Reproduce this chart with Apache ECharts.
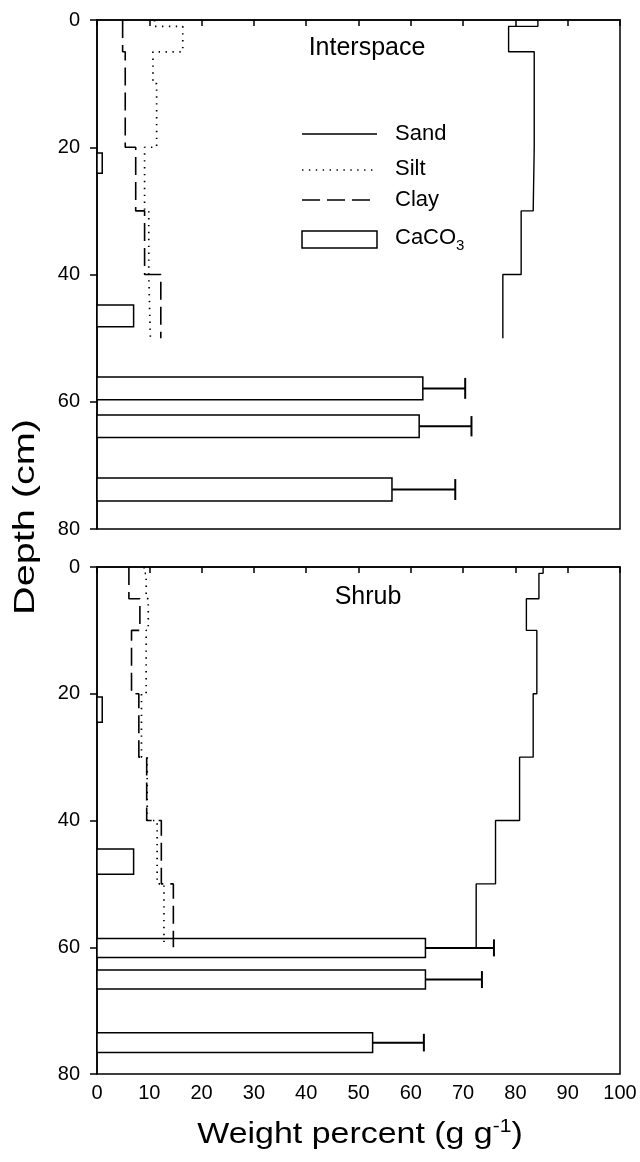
<!DOCTYPE html>
<html><head><meta charset="utf-8">
<script src="https://cdn.jsdelivr.net/npm/echarts@6/dist/echarts.min.js"></script>
<style>html,body{margin:0;padding:0;background:#fff}#c{width:640px;height:1162px}</style>
</head><body><div id="c"></div>
<script>
// ---------- data ----------
const xTickValues = [0,10,20,30,40,50,60,70,80,90,100];
const yTickValues = [0,20,40,60,80];

// Interspace (top panel): depth interval tops (cm) and values (%)
const depthTopsInterspace = [0, 1, 5, 10, 20, 30, 40];
const depthEndInterspace = 50;
const sandInterspace = [84.3, 78.7, 83.6, 83.6, 83.4, 81.1, 77.6];
const siltInterspace = [11.0, 16.4, 10.7, 11.4, 9.1, 9.9, 10.2];
const clayInterspace = [4.9, 4.9, 5.4, 5.4, 7.4, 9.1, 12.2];
const caco3Interspace = [1.0, 7.0, 62.3, 61.6, 56.4];
const caco3ErrInterspace = [0, 0, 8.1, 10.0, 12.1];
const caco3TopInterspace = [20.9, 44.8, 56.1, 62.1, 72.0];
const caco3BottomInterspace = [24.1, 48.2, 59.7, 65.6, 75.6];

// Shrub (bottom panel)
const depthTopsShrub = [0, 1, 5, 10, 20, 30, 40, 50];
const depthEndShrub = 60;
const sandShrub = [85.3, 84.5, 82.1, 84.1, 83.4, 80.8, 76.2, 72.5];
const siltShrub = [9.0, 9.4, 9.8, 9.4, 8.5, 9.6, 11.5, 12.8];
const clayShrub = [6.1, 6.1, 8.2, 6.6, 8.0, 9.5, 12.3, 14.6];
const caco3Shrub = [1.0, 7.0, 62.8, 62.8, 52.7];
const caco3ErrShrub = [0, 0, 13.1, 10.8, 9.8];
const caco3TopShrub = [20.5, 44.5, 58.6, 63.6, 73.5];
const caco3BottomShrub = [24.5, 48.5, 61.6, 66.6, 76.6];

// ---------- chart ----------
const FONT = '"Liberation Sans", Arial, sans-serif';
const chart = echarts.init(document.getElementById('c'), null, {renderer: 'canvas'});

function stepData(vals, tops, end) {
  const d = vals.map((v, i) => [v, tops[i]]);
  d.push([vals[vals.length - 1], end]);
  return d;
}
function barData(vals, errs, tops, bottoms) {
  return vals.map((v, i) => [v, errs[i], tops[i], bottoms[i]]);
}
function renderBar(params, api) {
  const v = api.value(0), e = api.value(1), t = api.value(2), b = api.value(3);
  const a = api.coord([0, t]), c = api.coord([v, b]);
  const children = [{
    type: 'rect',
    shape: {x: a[0], y: a[1], width: c[0] - a[0], height: c[1] - a[1]},
    style: {fill: '#fff', stroke: '#000', lineWidth: 1.5}
  }];
  if (e > 0) {
    const m = api.coord([v + e, (t + b) / 2]);
    children.push({type: 'line', shape: {x1: c[0], y1: m[1], x2: m[0], y2: m[1]}, style: {stroke: '#000', lineWidth: 2}});
    children.push({type: 'line', shape: {x1: m[0], y1: a[1] + 1, x2: m[0], y2: c[1] - 1}, style: {stroke: '#000', lineWidth: 2}});
  }
  return {type: 'group', children};
}

const lineStyles = {
  sand: {color: '#000', width: 1.4, type: 'solid'},
  silt: {color: '#000', width: 1.7, type: [1.4, 5.5], cap: 'butt'},
  clay: {color: '#000', width: 1.6, type: [18, 7]}
};

function panelSeries(idx, sand, silt, clay, tops, end, cv, ce, ct, cb) {
  const mk = (name, vals, st) => ({
    type: 'line', name, xAxisIndex: idx, yAxisIndex: idx,
    data: stepData(vals, tops, end), step: 'start', showSymbol: false,
    symbol: 'none', lineStyle: st, z: 5, silent: true, animation: false
  });
  return [
    {type: 'custom', name: 'CaCO3', xAxisIndex: idx, yAxisIndex: idx, renderItem: renderBar,
     data: barData(cv, ce, ct, cb), encode: {x: 0, y: 2}, z: 2, silent: true, animation: false},
    mk('Sand', sand, lineStyles.sand),
    mk('Silt', silt, lineStyles.silt),
    mk('Clay', clay, lineStyles.clay)
  ];
}

function xAxisCfg(idx, showLabels) {
  return {
    type: 'value', gridIndex: idx, min: xTickValues[0], max: xTickValues[xTickValues.length - 1],
    interval: xTickValues[1] - xTickValues[0],
    axisLine: {show: true, lineStyle: {color: '#000', width: 1.5}},
    axisTick: {show: true, inside: false, length: 6, lineStyle: {color: '#000', width: 1.5}},
    axisLabel: {show: showLabels, color: '#000', fontSize: 20, fontFamily: FONT, margin: 9},
    splitLine: {show: false}
  };
}
function yAxisCfg(idx) {
  return {
    type: 'value', gridIndex: idx, inverse: true, min: yTickValues[0], max: yTickValues[yTickValues.length - 1],
    interval: yTickValues[1] - yTickValues[0],
    axisLine: {show: true, lineStyle: {color: '#000', width: 1.5}},
    axisTick: {show: true, inside: false, length: 7, lineStyle: {color: '#000', width: 1.5}},
    axisLabel: {show: true, color: '#000', fontSize: 20, fontFamily: FONT, margin: 17},
    splitLine: {show: false}
  };
}

const legendX1 = 302, legendX2 = 377, legendTextX = 395;
const option = {
  backgroundColor: '#fff',
  animation: false,
  grid: [
    {left: 97, top: 20, width: 523, height: 509, show: true, borderColor: '#000', borderWidth: 1.5, containLabel: false},
    {left: 97, top: 567, width: 523, height: 507, show: true, borderColor: '#000', borderWidth: 1.5, containLabel: false}
  ],
  xAxis: [xAxisCfg(0, false), xAxisCfg(1, true)],
  yAxis: [yAxisCfg(0), yAxisCfg(1)],
  series: [
    ...panelSeries(0, sandInterspace, siltInterspace, clayInterspace, depthTopsInterspace, depthEndInterspace,
      caco3Interspace, caco3ErrInterspace, caco3TopInterspace, caco3BottomInterspace),
    ...panelSeries(1, sandShrub, siltShrub, clayShrub, depthTopsShrub, depthEndShrub,
      caco3Shrub, caco3ErrShrub, caco3TopShrub, caco3BottomShrub)
  ],
  graphic: [
    {type: 'text', x: 367, y: 48, style: {text: 'Interspace', fontSize: 25, fontFamily: FONT, fill: '#000', align: 'center', verticalAlign: 'middle'}},
    {type: 'text', x: 368, y: 597, style: {text: 'Shrub', fontSize: 25, fontFamily: FONT, fill: '#000', align: 'center', verticalAlign: 'middle'}},
    // legend
    {type: 'line', shape: {x1: legendX1, y1: 134, x2: legendX2, y2: 134}, style: {stroke: '#000', lineWidth: 1.4}},
    {type: 'line', shape: {x1: legendX1, y1: 170, x2: legendX2, y2: 170}, style: {stroke: '#000', lineWidth: 1.7, lineDash: [1.4, 5.5]}},
    {type: 'line', shape: {x1: legendX1, y1: 200, x2: legendX2, y2: 200}, style: {stroke: '#000', lineWidth: 1.6, lineDash: [18, 7]}},
    {type: 'rect', shape: {x: legendX1, y: 231, width: legendX2 - legendX1, height: 17}, style: {fill: '#fff', stroke: '#000', lineWidth: 1.5}},
    {type: 'text', x: legendTextX, y: 134, style: {text: 'Sand', fontSize: 22, fontFamily: FONT, fill: '#000', verticalAlign: 'middle'}},
    {type: 'text', x: legendTextX, y: 169, style: {text: 'Silt', fontSize: 22, fontFamily: FONT, fill: '#000', verticalAlign: 'middle'}},
    {type: 'text', x: legendTextX, y: 200, style: {text: 'Clay', fontSize: 22, fontFamily: FONT, fill: '#000', verticalAlign: 'middle'}},
    {type: 'text', x: legendTextX, y: 238, style: {
      text: '{a|CaCO}{b|3}', verticalAlign: 'middle', fill: '#000',
      rich: {
        a: {fontSize: 22, fontFamily: FONT, lineHeight: 30, verticalAlign: 'middle', fill: '#000'},
        b: {fontSize: 15, fontFamily: FONT, lineHeight: 15, verticalAlign: 'bottom', fill: '#000'}
      }}},
    // axis titles
    {type: 'text', x: 26, y: 517, rotation: Math.PI / 2, scaleX: 1.32, style: {text: 'Depth (cm)', fontSize: 30, fontFamily: FONT, fill: '#000', align: 'center', verticalAlign: 'middle'}},
    {type: 'text', x: 360, y: 1135, scaleX: 1.17, style: {
      text: '{n|Weight percent (g g}{s|-1}{n|)}', align: 'center', verticalAlign: 'middle', fill: '#000',
      rich: {
        n: {fontSize: 29, fontFamily: FONT, lineHeight: 34, verticalAlign: 'middle', fill: '#000'},
        s: {fontSize: 18, fontFamily: FONT, lineHeight: 18, verticalAlign: 'top', fill: '#000'}
      }}}
  ]
};
chart.setOption(option);
</script>
</body></html>
